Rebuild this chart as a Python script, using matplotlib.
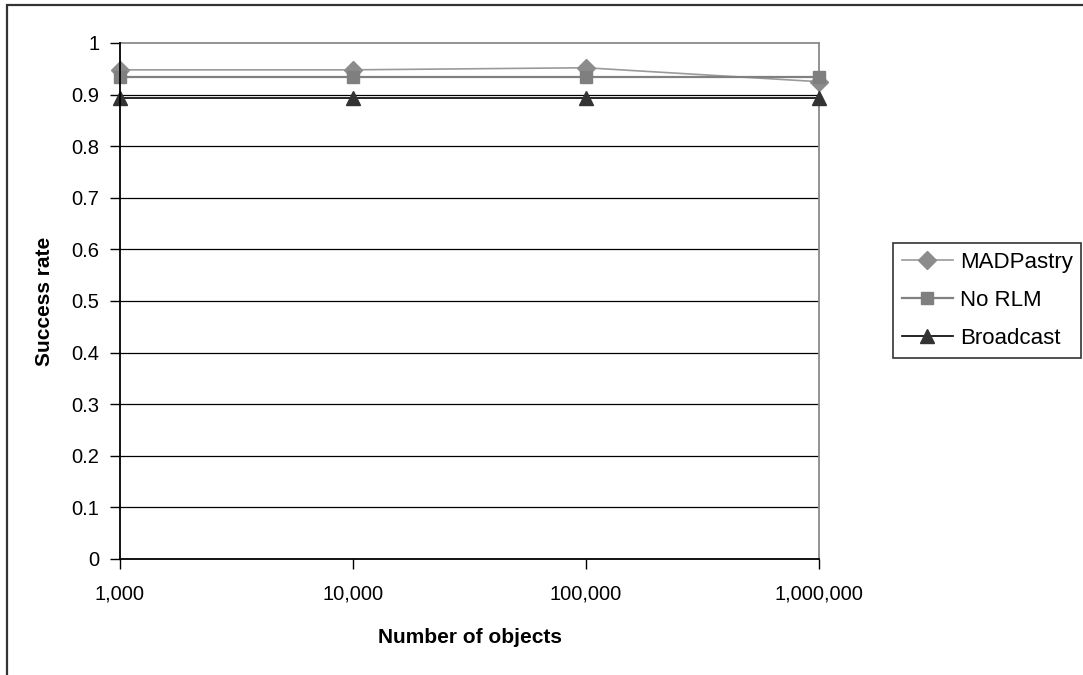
import matplotlib.pyplot as plt
from matplotlib.patches import Rectangle

plt.rcParams['font.family'] = ['Liberation Sans', 'DejaVu Sans']

# values
categories = ['1,000', '10,000', '100,000', '1,000,000']
madpastry = [0.948, 0.948, 0.952, 0.925]
no_rlm = [0.935, 0.935, 0.935, 0.935]
broadcast = [0.893, 0.893, 0.893, 0.893]
yticks = [0, 0.1, 0.2, 0.3, 0.4, 0.5, 0.6, 0.7, 0.8, 0.9, 1]

fig = plt.figure(figsize=(10.83, 6.75), dpi=100)
ax = fig.add_axes([120/1083, 1-559/675, 699/1083, 516/675])

x = list(range(len(categories)))

# horizontal grid
for yv in yticks[1:-1]:
    ax.axhline(yv, color='black', lw=0.9, zorder=1)

ax.plot(x, madpastry, color='#9a9a9a', lw=1.2, marker='D', ms=9,
        mfc='#8c8c8c', mec='#8c8c8c', label='MADPastry', zorder=3, clip_on=False)
ax.plot(x, no_rlm, color='#808080', lw=1.6, marker='s', ms=9,
        mfc='#7f7f7f', mec='#7f7f7f', label='No RLM', zorder=3, clip_on=False)
ax.plot(x, broadcast, color='black', lw=1.2, marker='^', ms=10,
        mfc='#333333', mec='#333333', label='Broadcast', zorder=4, clip_on=False)

ax.set_xlim(0, 3)
ax.set_ylim(0, 1)
ax.set_xticks(x)
ax.set_xticklabels(categories)
ax.set_yticks(yticks)
ax.set_yticklabels(['0', '0.1', '0.2', '0.3', '0.4', '0.5', '0.6', '0.7', '0.8', '0.9', '1'])
ax.tick_params(axis='both', direction='out', length=7, width=1, colors='black',
               labelsize=14.5, pad=8)
ax.tick_params(axis='x', pad=11)

for side in ['top', 'right']:
    ax.spines[side].set_color('#8a8a8a')
    ax.spines[side].set_linewidth(1.3)
for side in ['left', 'bottom']:
    ax.spines[side].set_color('black')
    ax.spines[side].set_linewidth(1.3)
ax.spines['left'].set_zorder(5)

ax.set_xlabel('Number of objects', fontsize=15, fontweight='bold', labelpad=18)
ax.set_ylabel('Success rate', fontsize=15, fontweight='bold', labelpad=12)

leg = ax.legend(loc='upper left', bbox_to_anchor=(893/1083, 1-243/675),
                bbox_transform=fig.transFigure, frameon=True, fancybox=False,
                fontsize=16, handlelength=2.3, handletextpad=0.3,
                borderpad=0.4, labelspacing=0.77, borderaxespad=0)
leg.get_frame().set_edgecolor('black')
leg.get_frame().set_linewidth(1.2)

# outer chart border (right and bottom edges fall outside the image)
fig.patches.append(Rectangle((7/1083, -0.05), 1.1, 1-5/675+0.05,
                             transform=fig.transFigure, fill=False,
                             edgecolor='#333333', lw=1.6))

fig.savefig('out.png', dpi=100)
